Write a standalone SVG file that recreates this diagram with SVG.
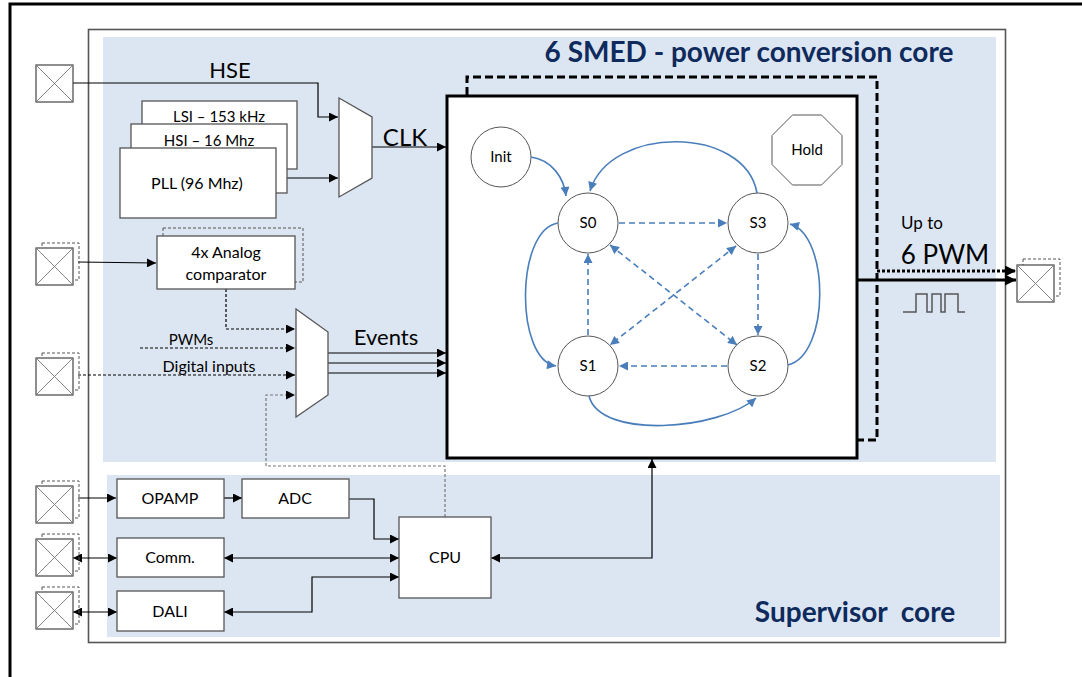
<svg xmlns="http://www.w3.org/2000/svg" width="1082" height="677" viewBox="0 0 1082 677">
<defs>
<style>
.t{font-family:Lato,"Open Sans","Liberation Sans",sans-serif;fill:#000;text-anchor:middle}
.ttl{font-family:Lato,"Open Sans","Liberation Sans",sans-serif;font-weight:bold;fill:#0F2A5C;font-size:28px}
.box{fill:#fff;stroke:#555;stroke-width:1.3}
.shd{fill:none;stroke:#555;stroke-width:1;stroke-dasharray:3 2}
.pin{fill:#fff;stroke:#444;stroke-width:1.2}
.px{stroke:#777;stroke-width:0.9}
.st{fill:#fff;stroke:#555;stroke-width:1}
.w{fill:none;stroke:#000;stroke-width:1.2}
.wd{fill:none;stroke:#000;stroke-width:1.2;stroke-dasharray:3 2}
.wg{fill:none;stroke:#777;stroke-width:1.2;stroke-dasharray:3 2}
.b{fill:none;stroke:#4A7EBB;stroke-width:1.6}
.bd{fill:none;stroke:#4A7EBB;stroke-width:1.6;stroke-dasharray:6 4}
</style>
<marker id="a" viewBox="0 0 10 10" refX="10" refY="5" markerWidth="10" markerHeight="9" markerUnits="userSpaceOnUse" orient="auto-start-reverse"><path d="M0,0 L10,5 L0,10 z" fill="#000"/></marker>
<marker id="ab" viewBox="0 0 10 10" refX="10" refY="5" markerWidth="11" markerHeight="9" markerUnits="userSpaceOnUse" orient="auto-start-reverse"><path d="M0,0 L10,5 L0,10 z" fill="#4A7EBB"/></marker>
<marker id="aw" viewBox="0 0 10 10" refX="10" refY="5" markerWidth="11" markerHeight="11" markerUnits="userSpaceOnUse" orient="auto-start-reverse"><path d="M0,0 L10,5 L0,10 z" fill="#000"/></marker>
<g id="pinsym">
<rect class="pin" x="0" y="0" width="37" height="37"/>
<line class="px" x1="0" y1="0" x2="37" y2="37"/>
<line class="px" x1="37" y1="0" x2="0" y2="37"/>
</g>
</defs>
<rect x="0" y="0" width="1082" height="677" fill="#fff"/>
<path d="M10,677 V4 H1082" fill="none" stroke="#000" stroke-width="3"/>
<g id="chip">
<rect x="88.5" y="29.5" width="917" height="613" fill="#fff" stroke="#555" stroke-width="1.6"/>
<rect x="103" y="37" width="893" height="425" fill="#DCE6F2"/>
<rect x="107" y="475" width="893" height="162" fill="#DCE6F2"/>
<text class="ttl" x="749" y="62" text-anchor="middle">6 SMED - power conversion core</text>
<text class="ttl" x="855" y="622" text-anchor="middle" xml:space="preserve">Supervisor  core</text>
</g>
<g id="connectors">
<polyline class="w" points="73,83 318,83 318,117 338,117" marker-end="url(#a)"/>
<polyline class="w" points="276,178 338,178" marker-end="url(#a)"/>
<polyline class="w" points="372,147 446,147" marker-end="url(#a)"/>
<polyline class="w" points="78,262 156,263" marker-end="url(#a)"/>
<polyline class="wd" points="226,289 226,329 295,329" marker-end="url(#a)"/>
<polyline class="wd" points="140,348 295,348" marker-end="url(#a)"/>
<polyline class="wd" points="78,375 295,375" marker-end="url(#a)"/>
<polyline class="wg" points="445,517 445,466 266,466 266,395 295,395" marker-end="url(#a)"/>
<polyline class="w" points="328,353 446,353" marker-end="url(#a)"/>
<polyline class="w" points="328,363 446,363" marker-end="url(#a)"/>
<polyline class="w" points="328,373 446,373" marker-end="url(#a)"/>
<polyline fill="none" stroke="#000" stroke-width="3" points="858,280 1016,280" marker-end="url(#aw)"/>
<polyline fill="none" stroke="#000" stroke-width="3" stroke-dasharray="3 2" points="877,271 1016,271" marker-end="url(#aw)"/>
<polyline class="w" points="78,498 116,498" marker-end="url(#a)"/>
<polyline class="w" points="224,498 242,498" marker-end="url(#a)"/>
<polyline class="w" points="349,499 374,499 374,539 399,539" marker-end="url(#a)"/>
<polyline class="w" points="73,558 117,558" marker-start="url(#a)" marker-end="url(#a)"/>
<polyline class="w" points="224,558 399,558" marker-start="url(#a)" marker-end="url(#a)"/>
<polyline class="w" points="73,612 117,612" marker-start="url(#a)" marker-end="url(#a)"/>
<polyline class="w" points="224,612 312,612 312,577 399,577" marker-start="url(#a)" marker-end="url(#a)"/>
<polyline class="w" points="491,558 652,558 652,459" marker-start="url(#a)" marker-end="url(#a)"/>
<polyline fill="none" stroke="#555" stroke-width="1.5" points="903,312 916,312 916,294 927,294 927,312 932,312 932,294 941,294 941,312 945,312 945,294 958,294 958,312 965,312"/>
</g>
<g id="pin-hse"><use href="#pinsym" x="36" y="65"/></g>
<g id="pin-cmp"><rect class="shd" x="42" y="243" width="37" height="37"/><use href="#pinsym" x="36" y="248"/></g>
<g id="pin-dig"><rect class="shd" x="42" y="353" width="37" height="37"/><use href="#pinsym" x="36" y="358"/></g>
<g id="pin-opamp"><rect class="shd" x="42" y="481" width="37" height="37"/><use href="#pinsym" x="36" y="486"/></g>
<g id="pin-comm"><rect class="shd" x="42" y="534" width="37" height="37"/><use href="#pinsym" x="36" y="539"/></g>
<g id="pin-dali"><rect class="shd" x="42" y="587" width="37" height="37"/><use href="#pinsym" x="36" y="592"/></g>
<g id="pin-pwm"><rect class="shd" x="1023" y="259" width="37" height="37"/><use href="#pinsym" x="1017" y="265"/></g>
<g id="lsi"><rect class="box" x="142" y="101" width="155" height="68"/><text class="t" x="219" y="122" font-size="15">LSI – 153 kHz</text></g>
<g id="hsi"><rect class="box" x="131" y="124" width="156" height="69"/><text class="t" x="209" y="146" font-size="15">HSI – 16 Mhz</text></g>
<g id="pll"><rect class="box" x="120" y="148" width="156" height="70"/><text class="t" x="197" y="189" font-size="16">PLL (96 Mhz)</text></g>
<g id="clkmux"><polygon class="box" points="339,98 372,117 372,178 339,197"/></g>
<g id="cmp"><rect class="shd" x="163" y="228" width="140" height="54"/><rect class="box" x="157" y="236" width="138" height="53"/><text class="t" x="226" y="258" font-size="16">4x Analog</text><text class="t" x="226" y="280" font-size="16">comparator</text></g>
<g id="evmux"><polygon class="box" points="296,309 328,332 328,395 296,417"/></g>
<g id="labels">
<text class="t" x="230" y="78" font-size="22">HSE</text>
<text class="t" x="405" y="146" font-size="24">CLK</text>
<text class="t" x="191" y="345" font-size="15">PWMs</text>
<text class="t" x="209" y="372" font-size="16">Digital inputs</text>
<text class="t" x="386" y="345" font-size="22">Events</text>
<text class="t" x="922" y="229" font-size="17">Up to</text>
<text class="t" x="945" y="264" font-size="26">6 PWM</text>
</g>
<g id="smed">
<rect x="447" y="96" width="410" height="362" fill="#fff" stroke="#000" stroke-width="3"/>
<path d="M467,95 V77 H877 V440 H858" fill="none" stroke="#000" stroke-width="3" stroke-dasharray="8 4"/>
</g>
<g id="init"><circle class="st" cx="501" cy="157" r="30"/><text class="t" x="501" y="162" font-size="15">Init</text></g>
<g id="hold"><polygon class="st" points="792.5,115 821.5,115 842,135.5 842,164.5 821.5,185 792.5,185 772,164.5 772,135.5"/><text class="t" x="807" y="155" font-size="15">Hold</text></g>
<g id="s0"><circle class="st" cx="588" cy="223" r="30"/><text class="t" x="588" y="228" font-size="15">S0</text></g>
<g id="s3"><circle class="st" cx="758" cy="223" r="30"/><text class="t" x="758" y="228" font-size="15">S3</text></g>
<g id="s1"><circle class="st" cx="588" cy="366" r="30"/><text class="t" x="588" y="371" font-size="15">S1</text></g>
<g id="s2"><circle class="st" cx="758" cy="366" r="30"/><text class="t" x="758" y="371" font-size="15">S2</text></g>
<g id="transitions">
<path class="b" d="M531,157 C552,160 564,178 566,196" marker-end="url(#ab)"/>
<path class="b" d="M757,193 C745,125 610,125 590,191" marker-end="url(#ab)"/>
<path class="b" d="M558,223 C515,230 515,360 556,366" marker-end="url(#ab)"/>
<path class="b" d="M589,396 C600,440 720,430 756,398" marker-end="url(#ab)"/>
<path class="b" d="M788,365 C830,355 830,235 790,224" marker-end="url(#ab)"/>
<path class="bd" d="M619,223 L727,223" marker-end="url(#ab)"/>
<path class="bd" d="M758,254 L758,335" marker-end="url(#ab)"/>
<path class="bd" d="M727,366 L619,366" marker-end="url(#ab)"/>
<path class="bd" d="M588,335 L588,254" marker-end="url(#ab)"/>
<path class="bd" d="M610,245 L737,345" marker-start="url(#ab)" marker-end="url(#ab)"/>
<path class="bd" d="M736,246 L610,345" marker-start="url(#ab)" marker-end="url(#ab)"/>
</g>
<g id="opamp"><rect class="box" x="117" y="479" width="107" height="39"/><text class="t" x="170" y="504" font-size="16">OPAMP</text></g>
<g id="adc"><rect class="box" x="242" y="479" width="107" height="39"/><text class="t" x="295" y="504" font-size="16">ADC</text></g>
<g id="comm"><rect class="box" x="117" y="538" width="107" height="39"/><text class="t" x="170" y="563" font-size="16">Comm.</text></g>
<g id="dali"><rect class="box" x="117" y="591" width="107" height="40"/><text class="t" x="170" y="617" font-size="16">DALI</text></g>
<g id="cpu"><rect class="box" x="399" y="517" width="92" height="81"/><text class="t" x="445" y="563" font-size="16">CPU</text></g>
</svg>
